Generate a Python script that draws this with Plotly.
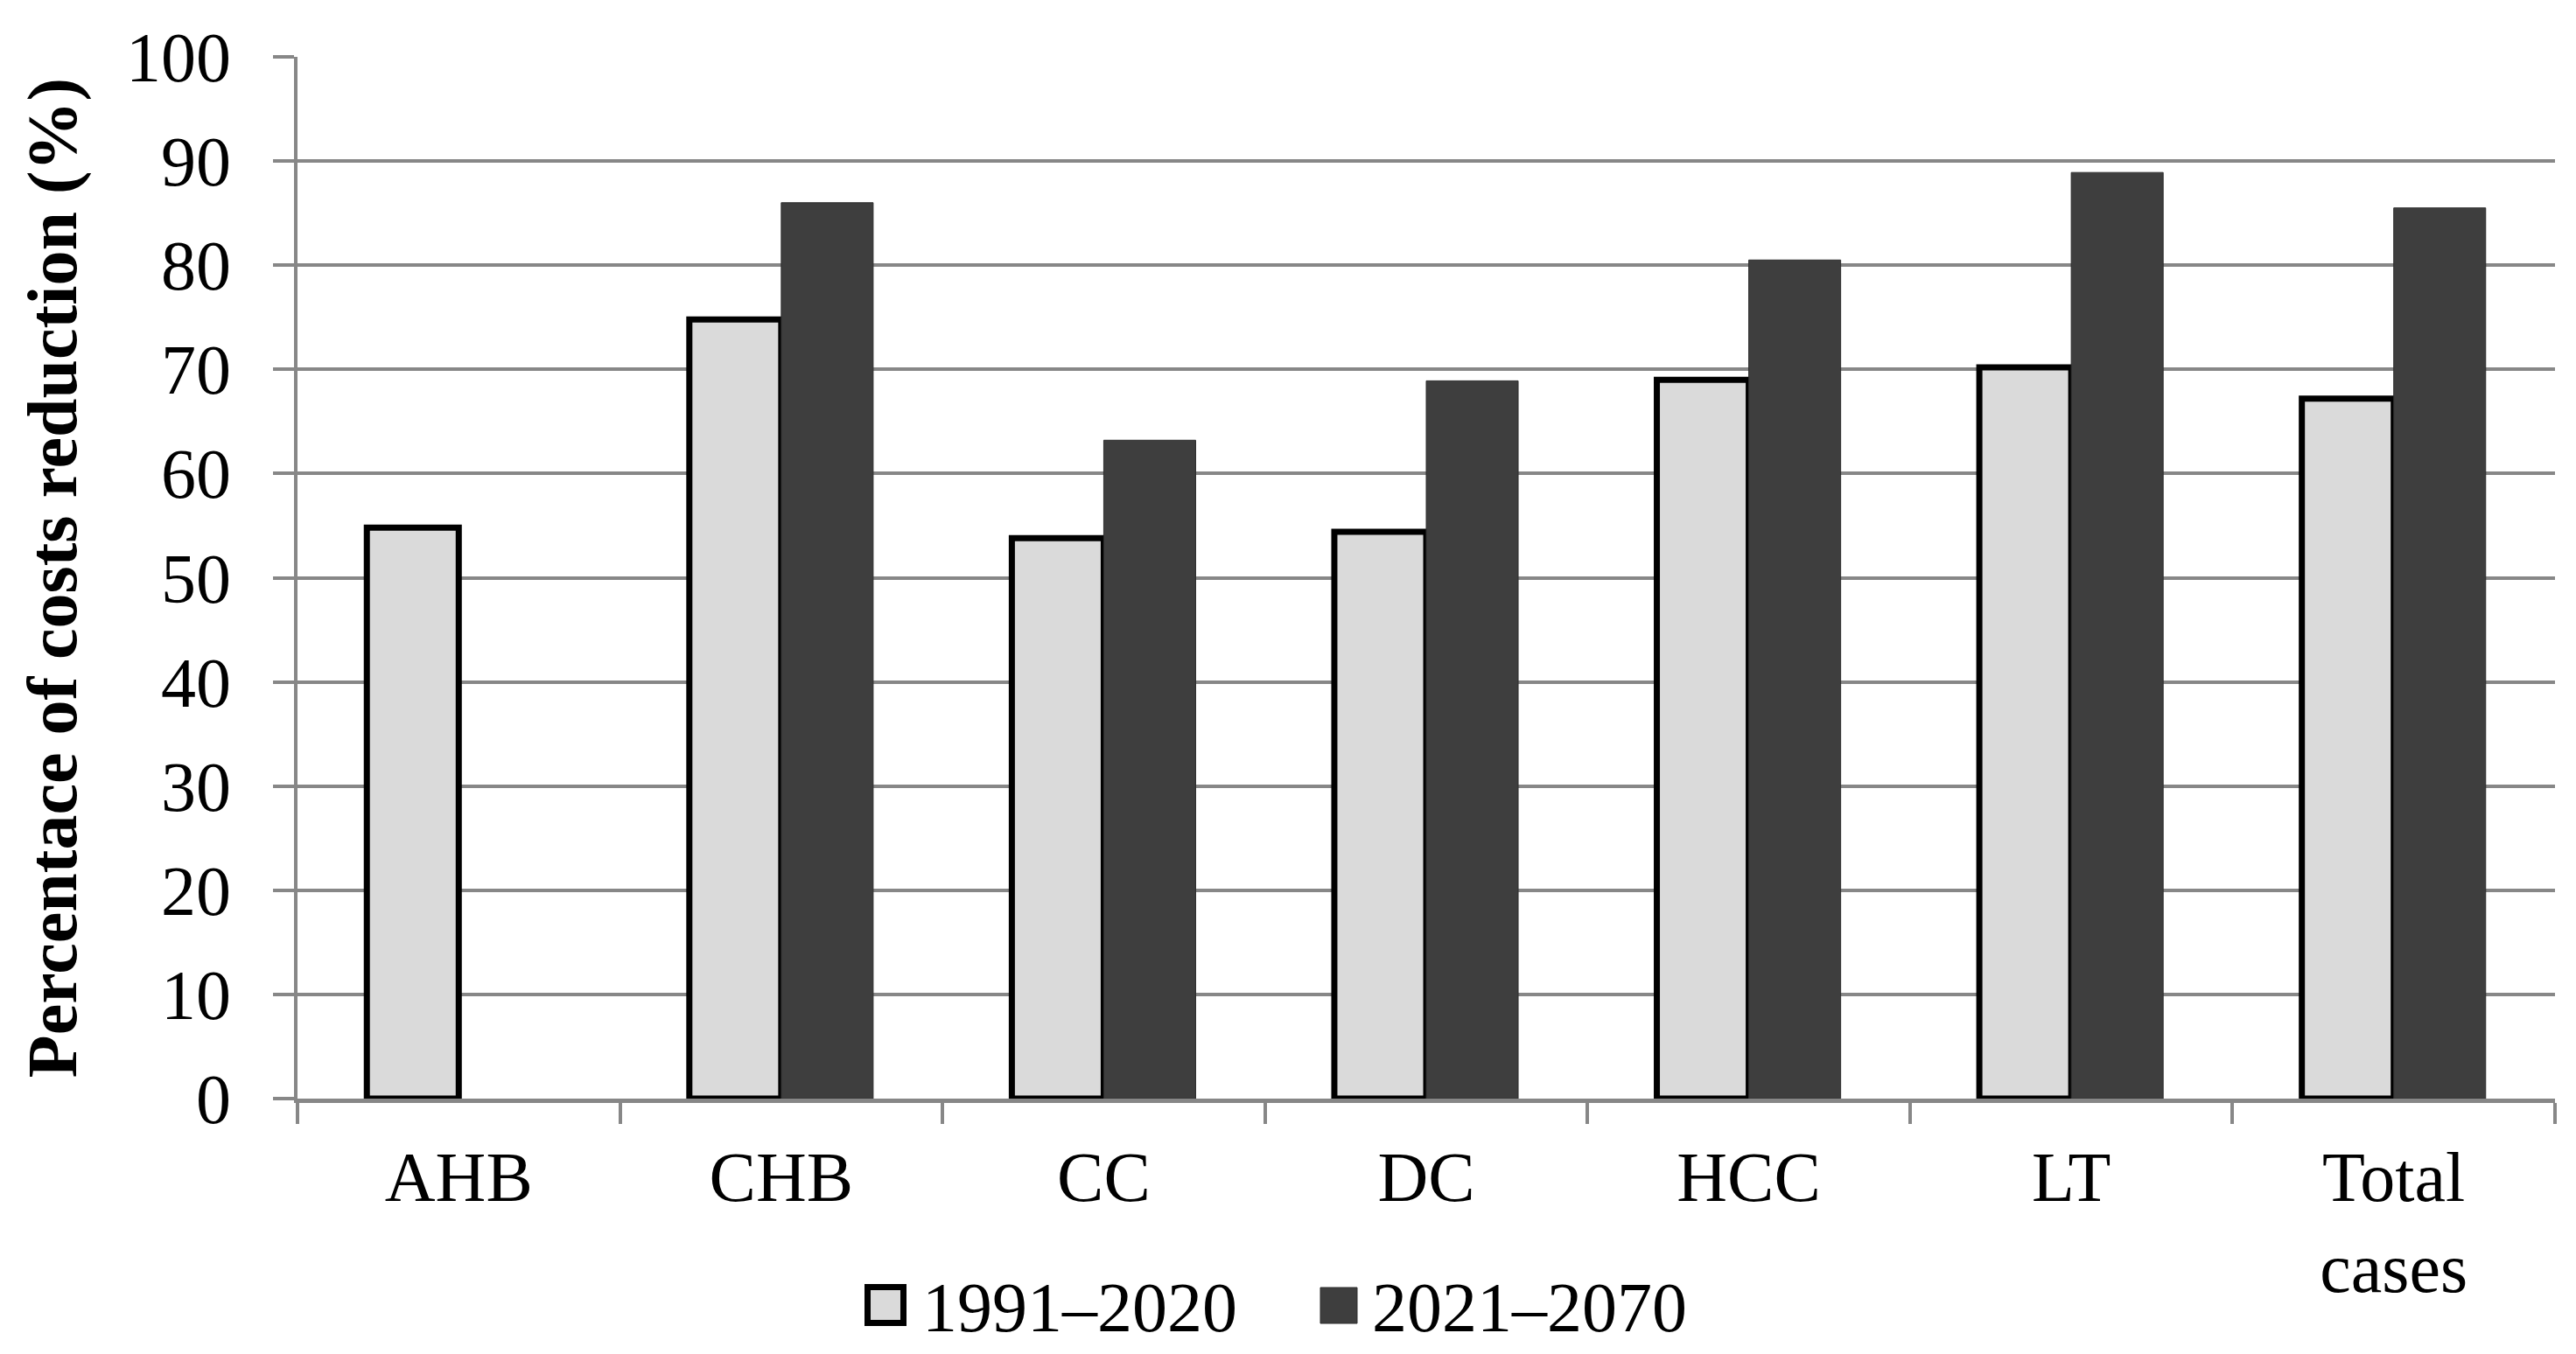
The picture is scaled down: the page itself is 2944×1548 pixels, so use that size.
import plotly.graph_objects as go

categories = ["AHB", "CHB", "CC", "DC", "HCC", "LT", "Total cases"]
tick_labels = ["AHB", "CHB", "CC", "DC", "HCC", "LT", "Total<br>cases"]
series_names = ["1991\u20132020", "2021\u20132070"]
period_1991_2020 = [54.8, 74.8, 53.8, 54.4, 69.0, 70.2, 67.2]
period_2021_2070 = [None, 86.0, 63.2, 68.9, 80.5, 88.9, 85.5]
y_ticks = [0, 10, 20, 30, 40, 50, 60, 70, 80, 90, 100]

FONT = "Liberation Serif"
GRID = "#878787"
LIGHT = "#dadada"
DARK = "#3e3e3e"

W, H = 2944, 1548
ML, MR, MT, MB = 332, 32, 57, 300
PW, PH = W - ML - MR, H - MT - MB


def px_x(x):
    return (x - ML) / PW


def px_y(y):
    return (H - MB - y) / PH


fig = go.Figure()
fig.add_trace(go.Bar(
    x=categories, y=period_1991_2020, name=series_names[0],
    marker=dict(color=LIGHT, line=dict(color="#000000", width=7)),
    showlegend=False,
))
fig.add_trace(go.Bar(
    x=categories, y=period_2021_2070, name=series_names[1],
    marker=dict(color=DARK, line=dict(color="#2e2e2e", width=1)),
    showlegend=False,
))

# legend drawn as swatches + text below the plot
shapes = [
    dict(type="rect", xref="paper", yref="paper",
         x0=px_x(983.5), x1=px_x(1024.5), y0=px_y(1504.5), y1=px_y(1463.5),
         fillcolor=LIGHT, line=dict(color="#000000", width=7)),
    dict(type="rect", xref="paper", yref="paper",
         x0=px_x(1501), x1=px_x(1543), y0=px_y(1505), y1=px_y(1464),
         fillcolor=DARK, line=dict(color="#2e2e2e", width=1)),
]
annotations = [
    dict(text=series_names[0], xref="paper", yref="paper", x=px_x(1044), y=px_y(1487),
         xanchor="left", yanchor="middle", showarrow=False,
         font=dict(family=FONT, size=80, color="#000000")),
    dict(text=series_names[1], xref="paper", yref="paper", x=px_x(1558), y=px_y(1487),
         xanchor="left", yanchor="middle", showarrow=False,
         font=dict(family=FONT, size=80, color="#000000")),
]

fig.update_layout(
    width=W, height=H,
    margin=dict(l=ML, r=MR, t=MT, b=MB),
    paper_bgcolor="white", plot_bgcolor="white",
    barmode="group", bargap=0.43, bargroupgap=0,
    font=dict(family=FONT, size=80, color="#000000"),
    showlegend=False,
    shapes=shapes, annotations=annotations,
)
fig.update_xaxes(
    tickmode="array", tickvals=categories, ticktext=tick_labels,
    tickson="boundaries", ticks="outside", ticklen=24, tickwidth=4, tickcolor=GRID,
    showline=True, linecolor=GRID, linewidth=5,
    tickfont=dict(family=FONT, size=80), ticklabelstandoff=16,
    automargin=False,
)
fig.update_yaxes(
    range=[0, 100], tickmode="array", tickvals=y_ticks,
    showgrid=True, gridcolor=GRID, gridwidth=4,
    showline=True, linecolor=GRID, linewidth=4,
    ticks="outside", ticklen=24, tickwidth=4, tickcolor=GRID,
    tickfont=dict(family=FONT, size=80), ticklabelstandoff=32,
    title=dict(text="<b>Percentace of costs reduction (%)</b>",
               font=dict(family=FONT, size=80), standoff=31),
    automargin=False, zeroline=False,
)

fig.write_html("out.html")
